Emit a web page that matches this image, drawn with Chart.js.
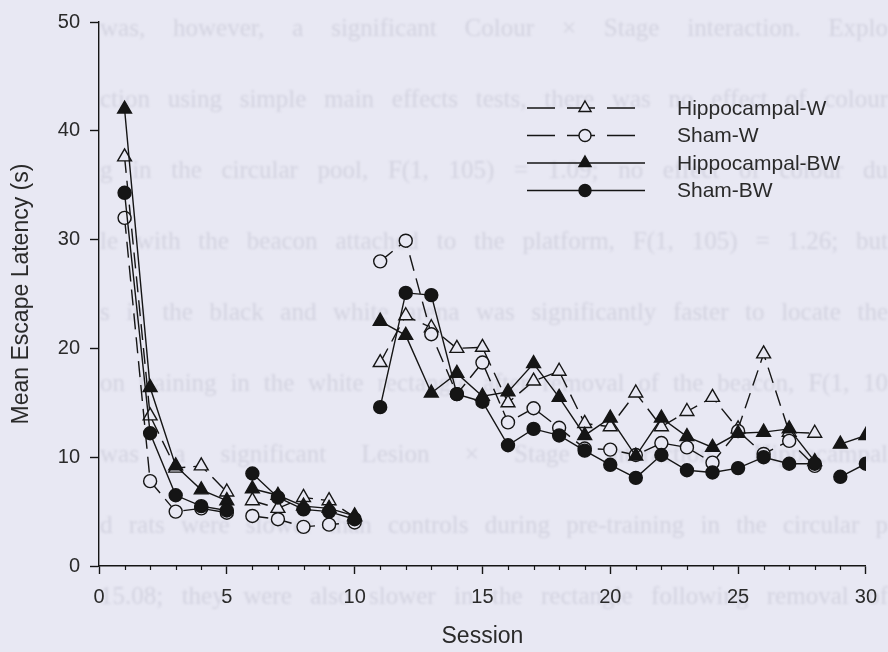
<!DOCTYPE html>
<html>
<head>
<meta charset="utf-8">
<title>Mean escape latency by session</title>
<script src="https://cdn.jsdelivr.net/npm/chart.js@4.4.1/dist/chart.umd.min.js"></script>
<style>
  html, body { margin: 0; padding: 0; background: #e8e8f3; }
  #wrap { position: relative; width: 888px; height: 652px; overflow: hidden; }
  #page { position: absolute; left: 0; top: 0; width: 888px; height: 652px;
          font-family: "Liberation Serif", serif; font-size: 25px; color: #d3d3e0; filter: blur(0.8px); }
  #page div { position: absolute; left: 100px; width: 788px; height: 30px; overflow: hidden;
              line-height: 30px; text-align: justify; text-align-last: justify; }
  canvas { position: absolute; left: 0; top: 0; }
</style>
</head>
<body>
<div id="wrap">
  <div id="page"></div>
  <canvas id="latencyChart" width="888" height="652"></canvas>
</div>
<script>
// thesis text showing through the page behind the figure
const pageLines = [
  "was, however, a significant Colour \u00d7 Stage interaction. Explo",
  "ction using simple main effects tests, there was no effect of colour",
  "g in the circular pool, F(1, 105) = 1.09; no effect of colour du",
  "le with the beacon attached to the platform, F(1, 105) = 1.26; but",
  "s in the black and white arena was significantly faster to locate the",
  "on training in the white rectangle after removal of the beacon, F(1, 10",
  "was a significant Lesion \u00d7 Stage interaction. Hippocampal",
  "d rats were slower than controls during pre-training in the circular p",
  "15.08; they were also slower in the rectangle following removal of"
];

// sessions, and the sessions where a new training block starts (no line joins across)
const sessions = [1, 2, 3, 4, 5, 6, 7, 8, 9, 10, 11, 12, 13, 14, 15, 16, 17, 18, 19, 20,
                  21, 22, 23, 24, 25, 26, 27, 28, 29, 30];
const blockStarts = [6, 11, 29];

// mean escape latency (s) per session
const hippocampalW  = [37.6, 13.8, 9.0, 9.2, 6.8, 6.0, 5.3, 6.3, 6.0, 4.5,
                       18.7, 23.0, 21.9, 20.0, 20.1, 15.0, 17.0, 17.9, 13.1, 12.8,
                       15.9, 12.8, 14.2, 15.5, 12.6, 19.5, 12.3, 12.2, null, null];
const shamW         = [32.0, 7.8, 5.0, 5.3, 4.9, 4.6, 4.3, 3.6, 3.8, 4.0,
                       28.0, 29.9, 21.3, 15.8, 18.7, 13.2, 14.5, 12.7, 10.8, 10.7,
                       10.2, 11.3, 10.9, 9.5, 12.4, 10.3, 11.5, 9.2, null, null];
const hippocampalBW = [42.0, 16.4, 9.2, 7.0, 6.0, 7.1, 6.5, 5.5, 5.3, 4.6,
                       22.5, 21.2, 15.9, 17.7, 15.6, 16.0, 18.6, 15.5, 12.0, 13.6,
                       10.1, 13.6, 11.9, 10.9, 12.2, 12.3, 12.6, 9.6, 11.2, 12.0];
const shamBW        = [34.3, 12.2, 6.5, 5.5, 5.1, 8.5, 6.3, 5.2, 5.0, 4.3,
                       14.6, 25.1, 24.9, 15.8, 15.1, 11.1, 12.6, 12.0, 10.6, 9.3,
                       8.1, 10.2, 8.8, 8.6, 9.0, 10.0, 9.4, 9.4, 8.2, 9.4];

const xTicks = [0, 5, 10, 15, 20, 25, 30];
const yTicks = [0, 10, 20, 30, 40, 50];

const ink = '#151515';
const paper = '#e8e8f3';
const textColor = '#2a2a2a';
const sans = "'Liberation Sans', Arial, sans-serif";

const page = document.getElementById('page');
pageLines.forEach((line, i) => {
  const d = document.createElement('div');
  d.textContent = line;
  d.style.top = (13 + i * 71) + 'px';
  page.appendChild(d);
});

// hide the segment that would join the last session of one block to the next block
const gap = ctx => blockStarts.includes(sessions[ctx.p1DataIndex]) ? 'rgba(0,0,0,0)' : undefined;

function series(label, values, style, filled, dashed, order) {
  return {
    label: label,
    data: values.map((v, i) => ({ x: sessions[i], y: v })),
    borderColor: ink,
    borderWidth: 1.4,
    borderDash: dashed ? [16, 8] : [],
    pointStyle: style,
    pointRadius: style === 'triangle' ? 8 : 6.5,
    pointBackgroundColor: filled ? ink : paper,
    pointBorderColor: ink,
    pointBorderWidth: 1.4,
    tension: 0,
    spanGaps: false,
    order: order,
    segment: { borderColor: gap }
  };
}

// small unlabelled ticks at every session
const minorTicks = {
  id: 'minorTicks',
  afterDraw(chart) {
    const x = chart.scales.x, c = chart.ctx, y0 = chart.chartArea.bottom;
    c.save();
    c.strokeStyle = ink;
    c.lineWidth = 1.2;
    sessions.forEach(s => {
      if (s % 5 === 0) return;
      const px = Math.round(x.getPixelForValue(s)) + 0.5;
      c.beginPath();
      c.moveTo(px, y0);
      c.lineTo(px, y0 + 4);
      c.stroke();
    });
    c.restore();
  }
};

// legend with a line sample and the marker in its middle
const lineLegend = {
  id: 'lineLegend',
  afterDraw(chart) {
    const c = chart.ctx;
    c.save();
    chart.data.datasets.forEach((ds, i) => {
      const y = 108 + i * 27.5;
      c.strokeStyle = ink;
      c.lineWidth = 1.4;
      c.setLineDash(ds.borderDash.length ? [28, 12] : []);
      c.beginPath();
      c.moveTo(527, y);
      c.lineTo(645, y);
      c.stroke();
      c.setLineDash([]);
      c.fillStyle = ds.pointBackgroundColor;
      c.strokeStyle = ink;
      c.lineWidth = 1.4;
      Chart.helpers.drawPoint(c, {
        pointStyle: ds.pointStyle,
        radius: ds.pointStyle === 'triangle' ? 7 : 6,
        borderWidth: 1.4,
        rotation: 0
      }, 585, y);
      c.fillStyle = textColor;
      c.font = '21px ' + sans;
      c.textBaseline = 'middle';
      c.textAlign = 'left';
      c.fillText(ds.label, 677, y + 1);
    });
    c.restore();
  }
};

const chart = new Chart(document.getElementById('latencyChart'), {
  type: 'line',
  data: {
    datasets: [
      series('Hippocampal-W', hippocampalW, 'triangle', false, true, 3),
      series('Sham-W', shamW, 'circle', false, true, 2),
      series('Hippocampal-BW', hippocampalBW, 'triangle', true, false, 1),
      series('Sham-BW', shamBW, 'circle', true, false, 0)
    ]
  },
  options: {
    responsive: false,
    animation: false,
    layout: { padding: { top: 20, right: 13, left: 0, bottom: 0 } },
    plugins: { legend: { display: false }, tooltip: { enabled: false } },
    scales: {
      x: {
        type: 'linear',
        min: 0,
        max: 30,
        afterFit: s => { s.height = 86; },
        afterBuildTicks: s => { s.ticks = xTicks.map(v => ({ value: v })); },
        border: { color: ink, width: 1.4 },
        grid: { drawOnChartArea: false, tickLength: 8, tickColor: ink, tickWidth: 1.4 },
        ticks: { color: textColor, font: { family: sans, size: 20 }, padding: 11 },
        title: { display: true, text: 'Session', color: textColor,
                 font: { family: sans, size: 23 }, padding: { top: 0, bottom: 2 } }
      },
      y: {
        type: 'linear',
        min: 0,
        max: 50,
        afterFit: s => { s.width = 99; },
        afterBuildTicks: s => { s.ticks = yTicks.map(v => ({ value: v })); },
        border: { color: ink, width: 1.4 },
        grid: { drawOnChartArea: false, tickLength: 9, tickColor: ink, tickWidth: 1.4 },
        ticks: { color: textColor, font: { family: sans, size: 20 }, padding: 10 },
        title: { display: true, text: 'Mean Escape Latency (s)', color: textColor,
                 font: { family: sans, size: 23 }, padding: { top: 8, bottom: 0 } }
      }
    }
  },
  plugins: [minorTicks, lineLegend]
});
</script>
</body>
</html>
